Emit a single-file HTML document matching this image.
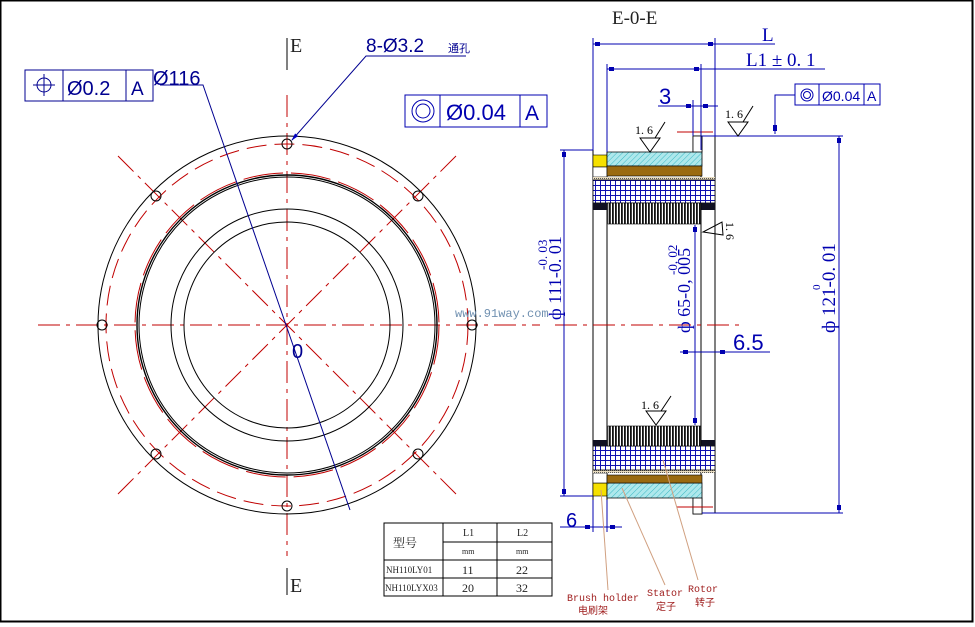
<!DOCTYPE html>
<html><head><meta charset="utf-8"><style>
html,body{margin:0;padding:0;background:#fff;}
svg{display:block;}
text{font-family:"Liberation Sans","Noto Sans CJK SC",sans-serif;}
text.m,.m text{font-family:"Liberation Mono","Noto Sans CJK SC",monospace;}
text.s,.s text{font-family:"Liberation Serif","Noto Serif CJK SC",serif;}
</style></head><body>
<svg width="975" height="627" viewBox="0 0 975 627" xmlns="http://www.w3.org/2000/svg">
<defs>
<pattern id="hat" width="4" height="4" patternUnits="userSpaceOnUse" patternTransform="rotate(45)"><rect width="4" height="4" fill="#aee8ec"/><line x1="0" y1="0" x2="0" y2="4" stroke="#3cb8c4" stroke-width="1"/></pattern>
<pattern id="grid" width="5" height="5" patternUnits="userSpaceOnUse"><rect width="5" height="5" fill="#fff"/><path d="M0 0.5H5M0.5 0V5" stroke="#1010b0" stroke-width="1"/></pattern>
<pattern id="teeth" width="3" height="4" patternUnits="userSpaceOnUse"><rect width="3" height="4" fill="#fff"/><rect width="1.8" height="4" fill="#111"/></pattern>
<pattern id="dots" width="2" height="2" patternUnits="userSpaceOnUse"><rect width="2" height="2" fill="#e8dcc0"/><rect width="1" height="1" fill="#555"/></pattern>
<marker id="ar" markerWidth="8" markerHeight="6" refX="7" refY="3" orient="auto" markerUnits="userSpaceOnUse"><path d="M0 1L8 3L0 5z" fill="#0000c0"/></marker>
</defs>
<rect x="0.5" y="0.5" width="972" height="621" fill="#fff" stroke="#000" stroke-width="2"/>

<!-- LEFT VIEW -->
<g fill="none">
<g stroke="#c00000" stroke-width="1" stroke-dasharray="22,6,4,6">
<line x1="38" y1="325" x2="540" y2="325"/>
<line x1="287" y1="95" x2="287" y2="556"/>
<line x1="118" y1="494" x2="456" y2="156"/>
<line x1="118" y1="156" x2="456" y2="494"/>
</g>
<circle cx="287" cy="325" r="181" stroke="#c00000" stroke-dasharray="20,8"/>
<circle cx="287" cy="325" r="152" stroke="#c00000" stroke-dasharray="40,8"/>
<circle cx="287" cy="325" r="189" stroke="#000"/>
<circle cx="287" cy="325" r="150" stroke="#000" stroke-width="1.4"/>
<circle cx="287" cy="325" r="148" stroke="#000"/>
<circle cx="287" cy="325" r="116" stroke="#000"/>
<circle cx="287" cy="325" r="103" stroke="#000"/>
<g stroke="#000">
<circle cx="287" cy="144" r="5"/><circle cx="287" cy="506" r="5"/>
<circle cx="102" cy="325" r="5"/><circle cx="472" cy="325" r="5"/>
<circle cx="156" cy="196" r="5"/><circle cx="418" cy="196" r="5"/>
<circle cx="156" cy="454" r="5"/><circle cx="418" cy="454" r="5"/>
</g>
<line x1="287" y1="38" x2="287" y2="70" stroke="#000"/>
<line x1="287" y1="568" x2="287" y2="595" stroke="#000"/>
<polyline points="160,85 203,85 350,510" stroke="#000090"/>
<polyline points="466,56 366,56 292,140" stroke="#000090" marker-end="url(#ar)"/>
<rect x="25" y="70" width="128" height="31" stroke="#000090"/>
<line x1="63" y1="70" x2="63" y2="101" stroke="#000090"/>
<line x1="126" y1="70" x2="126" y2="101" stroke="#000090"/>
<circle cx="44" cy="85" r="7" stroke="#000090"/>
<path d="M33 85H55M44 74V96" stroke="#000090"/>
</g>
<text x="290" y="52" class="s" font-size="20" fill="#222">E</text>
<text x="290" y="592" class="s" font-size="20" fill="#222">E</text>
<text x="292" y="358" font-size="20" fill="#000090">0</text>
<text x="67" y="95" font-size="20" fill="#000090">Ø0.2</text>
<text x="131" y="95" font-size="19" fill="#000090">A</text>
<text x="153" y="85" font-size="20" fill="#000090">Ø116</text>
<text x="366" y="52" font-size="19" fill="#000090">8-Ø3.2</text>
<text x="448" y="52" font-size="11" fill="#000090">通孔</text>
<text x="455" y="317" class="m" font-size="12" fill="#7090b0">www.91way.com</text>

<!-- RIGHT VIEW -->
<text x="612" y="24" class="s" font-size="19" fill="#222">E-0-E</text>
<g fill="none" stroke="#000" stroke-width="1">
<line x1="593" y1="150" x2="593" y2="500"/>
<line x1="607" y1="150" x2="607" y2="500"/>
<line x1="701" y1="150" x2="701" y2="500"/>
<line x1="715" y1="137" x2="715" y2="513"/>
</g>
<rect x="593" y="155" width="14" height="12" fill="#f5e000" stroke="#000" stroke-width="0.6"/>
<rect x="593" y="167" width="14" height="10" fill="#fff" stroke="#000" stroke-width="0.6"/>
<path d="M607 152H693V136H702V166H607Z" fill="url(#hat)" stroke="#000" stroke-width="0.8"/>
<rect x="693" y="136" width="9" height="16" fill="#fff" stroke="#000" stroke-width="0.8"/>
<rect x="607" y="166" width="95" height="10" fill="#9a6a10" stroke="#000" stroke-width="0.6"/>
<rect x="593" y="177" width="122" height="3" fill="url(#dots)"/>
<rect x="593" y="180" width="122" height="23" fill="url(#grid)" stroke="#000" stroke-width="0.8"/>
<rect x="593" y="203" width="14" height="7" fill="#112"/>
<rect x="701" y="203" width="14" height="7" fill="#112"/>
<rect x="608" y="203" width="93" height="21" fill="url(#teeth)" stroke="#000" stroke-width="0.6"/>
<rect x="593" y="483" width="14" height="13" fill="#f5e000" stroke="#000" stroke-width="0.6"/>
<rect x="593" y="473" width="14" height="10" fill="#fff" stroke="#000" stroke-width="0.6"/>
<path d="M607 498H693V514H702V483H607Z" fill="url(#hat)" stroke="#000" stroke-width="0.8"/>
<rect x="693" y="498" width="9" height="16" fill="#fff" stroke="#000" stroke-width="0.8"/>
<rect x="607" y="475" width="95" height="8" fill="#9a6a10" stroke="#000" stroke-width="0.6"/>
<rect x="593" y="470" width="122" height="3" fill="url(#dots)"/>
<rect x="593" y="446" width="122" height="24" fill="url(#grid)" stroke="#000" stroke-width="0.8"/>
<rect x="593" y="440" width="14" height="6" fill="#112"/>
<rect x="701" y="440" width="14" height="6" fill="#112"/>
<rect x="608" y="426" width="93" height="20" fill="url(#teeth)" stroke="#000" stroke-width="0.6"/>

<g stroke="#c00000" fill="none">
<line x1="555" y1="325" x2="745" y2="325" stroke-dasharray="22,6,4,6"/>
<line x1="677" y1="132" x2="713" y2="132"/>
<line x1="677" y1="507" x2="713" y2="507"/>
</g>

<g stroke="#0000b0" fill="none" stroke-width="1">
<line x1="593" y1="38" x2="593" y2="150"/>
<line x1="715" y1="38" x2="715" y2="137"/>
<line x1="607" y1="64" x2="607" y2="152"/>
<line x1="701" y1="64" x2="701" y2="150"/>
<line x1="693" y1="100" x2="693" y2="136"/>
<line x1="593" y1="44" x2="775" y2="44"/>
<line x1="607" y1="69" x2="825" y2="69"/>
<line x1="658" y1="106" x2="718" y2="106"/>
<line x1="702" y1="136" x2="843" y2="136"/>
<line x1="702" y1="513" x2="843" y2="513"/>
<line x1="839" y1="136" x2="839" y2="513"/>
<line x1="560" y1="150" x2="593" y2="150"/>
<line x1="560" y1="496" x2="593" y2="496"/>
<line x1="564" y1="150" x2="564" y2="496"/>
<line x1="695" y1="225" x2="695" y2="425"/>
<line x1="680" y1="352" x2="770" y2="352"/>
<line x1="560" y1="527" x2="622" y2="527"/>
<line x1="593" y1="500" x2="593" y2="532"/>
<line x1="607" y1="500" x2="607" y2="532"/>
<polyline points="795,95 775,95 775,134"/>
<rect x="795" y="84" width="85" height="21"/>
<line x1="819" y1="84" x2="819" y2="105"/><line x1="864" y1="84" x2="864" y2="105"/>
<circle cx="807" cy="95" r="6"/><circle cx="807" cy="95" r="3.5"/>
<rect x="405" y="95" width="142" height="32"/>
<line x1="440" y1="95" x2="440" y2="127"/><line x1="520" y1="95" x2="520" y2="127"/>
<circle cx="423" cy="111" r="11"/><circle cx="423" cy="111" r="7"/>
</g>
<g fill="#0000b0">
<rect x="595" y="42" width="5" height="4"/><rect x="708" y="42" width="5" height="4"/>
<rect x="609" y="67" width="5" height="4"/><rect x="694" y="67" width="5" height="4"/>
<rect x="686" y="104" width="5" height="4"/><rect x="703" y="104" width="5" height="4"/>
<rect x="837" y="138" width="4" height="5"/><rect x="837" y="505" width="4" height="5"/>
<rect x="562" y="152" width="4" height="5"/><rect x="562" y="489" width="4" height="5"/>
<rect x="693" y="227" width="4" height="5"/><rect x="693" y="418" width="4" height="5"/>
<rect x="683" y="350" width="5" height="4"/><rect x="720" y="350" width="5" height="4"/>
<rect x="585" y="525" width="5" height="4"/><rect x="610" y="525" width="5" height="4"/>
<rect x="773" y="125" width="4" height="6"/>
</g>
<g fill="#0000b0">
<text x="762" y="41" class="s" font-size="19">L</text>
<text x="746" y="66" class="s" font-size="19">L1 ± 0. 1</text>
<text x="659" y="104" font-size="22">3</text>
<text x="733" y="350" font-size="22">6.5</text>
<text x="566" y="527" font-size="20">6</text>
<text x="822" y="101" font-size="14">Ø0.04</text>
<text x="867" y="101" font-size="14">A</text>
<text x="446" y="120" font-size="22">Ø0.04</text>
<text x="525" y="120" font-size="21">A</text>
<text transform="translate(835,333) rotate(-90)" class="s" font-size="19">ф 121-0. 01</text>
<text transform="translate(820,290) rotate(-90)" class="s" font-size="11">0</text>
<text transform="translate(561,320) rotate(-90)" class="s" font-size="18">ф 111-0. 01</text>
<text transform="translate(547,270) rotate(-90)" class="s" font-size="13">-0. 03</text>
<text transform="translate(690,333) rotate(-90)" class="s" font-size="18">ф 65-0, 005</text>
<text transform="translate(677,275) rotate(-90)" class="s" font-size="13">-0, 02</text>
</g>
<g fill="none" stroke="#000" stroke-width="1">
<path d="M640 138L650 152L660 138Z M655 138L665 122"/>
<path d="M728 122L738 136L748 122Z M743 122L753 106"/>
<path d="M723 235L703 232L722 222Z"/>
<path d="M646 411L656 425L666 411Z M661 411L671 396"/>
</g>
<g fill="#000" class="s">
<text x="635" y="134" font-size="12">1. 6</text>
<text x="725" y="118" font-size="12">1. 6</text>
<text x="641" y="409" font-size="12">1. 6</text>
<text transform="translate(726,222) rotate(90)" font-size="12">1. 6</text>
</g>

<g stroke="#d0a080" fill="none">
<line x1="601" y1="490" x2="608" y2="590"/>
<line x1="622" y1="488" x2="665" y2="585"/>
<line x1="663" y1="460" x2="698" y2="580"/>
</g>
<g fill="#a02020" class="m" font-size="10">
<text x="567" y="601">Brush holder</text>
<text x="578" y="614">电刷架</text>
<text x="647" y="596">Stator</text>
<text x="656" y="610">定子</text>
<text x="688" y="592">Rotor</text>
<text x="695" y="606">转子</text>
</g>

<g stroke="#000" fill="none" stroke-width="1">
<rect x="384" y="523" width="168" height="73"/>
<line x1="443" y1="523" x2="443" y2="596"/>
<line x1="497" y1="523" x2="497" y2="596"/>
<line x1="443" y1="542" x2="552" y2="542"/>
<line x1="384" y1="560" x2="552" y2="560"/>
<line x1="384" y1="578" x2="552" y2="578"/>
</g>
<g fill="#222" class="s">
<text x="393" y="547" font-size="12">型号</text>
<text x="463" y="536" font-size="10">L1</text>
<text x="517" y="536" font-size="10">L2</text>
<text x="462" y="554" font-size="8">mm</text>
<text x="516" y="554" font-size="8">mm</text>
<text x="386" y="573" font-size="9">NH110LY01</text>
<text x="385" y="591" font-size="9">NH110LYX03</text>
<text x="462" y="574" font-size="12">11</text>
<text x="516" y="574" font-size="12">22</text>
<text x="462" y="592" font-size="12">20</text>
<text x="516" y="592" font-size="12">32</text>
</g>
</svg>
</body></html>
